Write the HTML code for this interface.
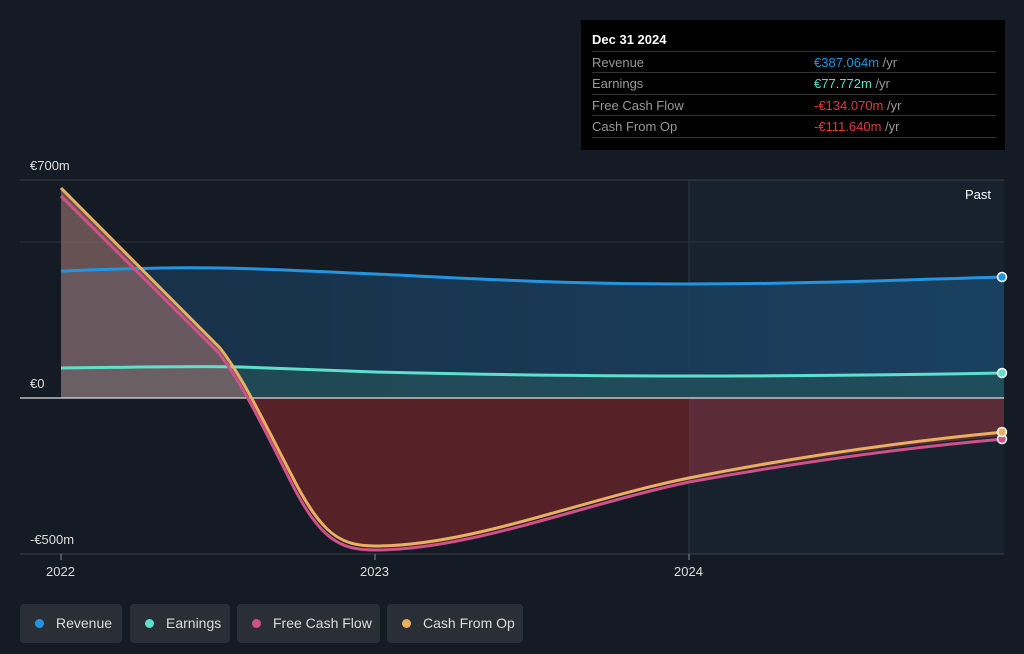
<!DOCTYPE html>
<html><head><meta charset="utf-8"><style>
body{margin:0;background:#151b24;font-family:"Liberation Sans",sans-serif;}
.wrap{position:relative;width:1024px;height:654px;overflow:hidden;background:#151b24}
.tip{position:absolute;left:581px;top:20px;width:424px;height:130px;background:#000}
.tip .h{position:absolute;left:11px;top:12px;color:#fff;font-weight:bold;font-size:13px}
.row{position:absolute;left:11px;width:404px;border-top:1px solid #333;height:21px;font-size:13px;color:#999;line-height:21px}
.row span{position:absolute;left:222px}
.row i{font-style:normal;color:#999}
.leg{position:absolute;top:604px;height:39px;background:#2a2f37;border-radius:4px;color:#ddd;font-size:14px;line-height:39px}
.leg b{display:inline-block;width:9px;height:9px;border-radius:50%;margin:0 12px 0 15px}
</style></head><body><div class="wrap">
<svg width="1024" height="654" style="position:absolute;left:0;top:0">
<defs>
<linearGradient id="rv" x1="0" x2="1"><stop offset="0" stop-color="#18324a"/><stop offset="1" stop-color="#1a4466"/></linearGradient>
<clipPath id="neg"><path d="M248,398 C290,480 320,546 375,548 C470,550 580,500 689,480 C800,460 900,445 1004,436 L1004,398Z"/></clipPath>
</defs>
<rect x="689" y="180" width="315" height="374" fill="#18222e"/>
<line x1="20" y1="180" x2="1004" y2="180" stroke="#3a4048"/>
<line x1="20" y1="242" x2="1004" y2="242" stroke="#2a3038"/>
<line x1="689" y1="180" x2="689" y2="554" stroke="#2a3440"/>
<line x1="20" y1="554" x2="1004" y2="554" stroke="#3a4048"/>
<path d="M61,271 C120,269 170,267 220,268 C280,269 320,272 375,274 C480,279 560,284 689,284 C800,284 900,280 1004,277 L1004,398 L61,398Z" fill="url(#rv)" opacity="0.9"/>
<path d="M61,368 C150,367 200,366 240,367 C300,369 340,371 375,372 C500,375 600,376 689,376 C800,376 900,375 1004,373 L1004,398 L61,398Z" fill="#24525a" opacity="0.7"/>
<path d="M61,188 L220,348 C235,368 242,385 248,398 L61,398Z" fill="#8a6a68" opacity="0.7"/>
<path d="M248,398 C290,480 320,546 375,548 C470,550 580,500 689,480 C800,460 900,445 1004,436 L1004,398Z" fill="#5a2328" opacity="0.95"/>
<rect x="689" y="398" width="315" height="100" fill="#6a4a66" opacity="0.25" clip-path="url(#neg)"/>
<line x1="20" y1="398" x2="1004" y2="398" stroke="#ddd" stroke-width="1.2"/>
<path d="M61,271 C120,269 170,267 220,268 C280,269 320,272 375,274 C480,279 560,284 689,284 C800,284 900,280 1004,277" fill="none" stroke="#2394e0" stroke-width="3"/>
<path d="M61,368 C150,367 200,366 240,367 C300,369 340,371 375,372 C500,375 600,376 689,376 C800,376 900,375 1004,373" fill="none" stroke="#5ee0cc" stroke-width="3"/>
<path d="M61,196 L218,352 C240,380 260,420 290,480 C320,540 340,550 375,550 C470,550 580,505 689,482 C800,462 900,448 1004,439" fill="none" stroke="#d0508a" stroke-width="3"/>
<path d="M61,188 L220,348 C242,376 262,418 292,476 C322,536 342,546 375,546 C470,546 580,500 689,478 C800,456 900,442 1004,432" fill="none" stroke="#e8b060" stroke-width="3"/>
<circle cx="1002" cy="277" r="4.5" fill="#2394e0" stroke="#fff" stroke-width="1.5"/>
<circle cx="1002" cy="373" r="4.5" fill="#5ee0cc" stroke="#fff" stroke-width="1.5"/>
<circle cx="1002" cy="439" r="4.5" fill="#d0508a" stroke="#fff" stroke-width="1.5"/>
<circle cx="1002" cy="432" r="4.5" fill="#e8b060" stroke="#fff" stroke-width="1.5"/>
<line x1="61" y1="554" x2="61" y2="560" stroke="#888"/>
<line x1="375" y1="554" x2="375" y2="560" stroke="#888"/>
<line x1="689" y1="554" x2="689" y2="560" stroke="#888"/>
<g fill="#ddd" font-size="13" font-family="Liberation Sans,sans-serif">
<text x="30" y="170">€700m</text><text x="30" y="388">€0</text><text x="30" y="544">-€500m</text>
<text x="46" y="576">2022</text><text x="360" y="576">2023</text><text x="674" y="576">2024</text>
<text x="965" y="199" fill="#fff">Past</text>
</g>
</svg>
<div class="tip"><div class="h">Dec 31 2024</div>
<div class="row" style="top:31px">Revenue<span style="color:#2394e0">€387.064m <i>/yr</i></span></div>
<div class="row" style="top:52px">Earnings<span style="color:#5ee0cc">€77.772m <i>/yr</i></span></div>
<div class="row" style="top:74px">Free Cash Flow<span style="color:#e03a3a">-€134.070m <i>/yr</i></span></div>
<div class="row" style="top:95px;border-bottom:1px solid #333">Cash From Op<span style="color:#e03a3a">-€111.640m <i>/yr</i></span></div>
</div>
<div class="leg" style="left:20px;width:102px"><b style="background:#2394e0"></b>Revenue</div>
<div class="leg" style="left:130px;width:100px"><b style="background:#5ee0cc"></b>Earnings</div>
<div class="leg" style="left:237px;width:143px"><b style="background:#d0508a"></b>Free Cash Flow</div>
<div class="leg" style="left:387px;width:136px"><b style="background:#e8b060"></b>Cash From Op</div>
</div></body></html>
